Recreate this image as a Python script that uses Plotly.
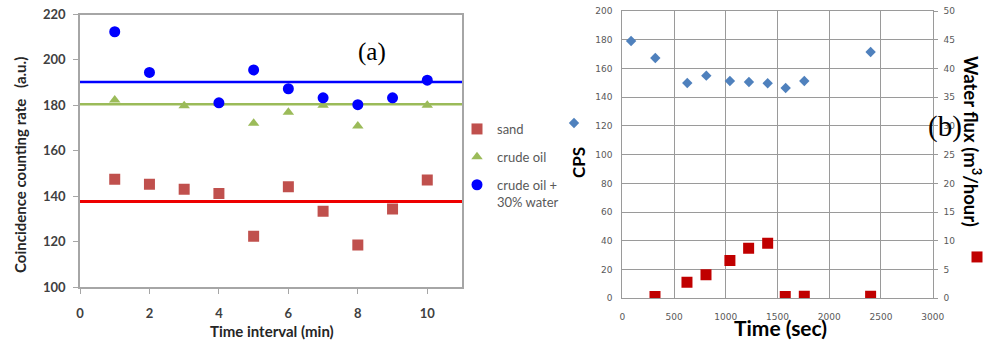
import plotly.graph_objects as go

# ---------------- Panel (a) data ----------------
interval = [1, 2, 3, 4, 5, 6, 7, 8, 9, 10]
sand = [147.4, 145.3, 143.1, 141.2, 122.4, 144.1, 133.4, 118.5, 134.3, 147.1]

oil_x = [1, 3, 4, 5, 6, 7, 8, 10]
crude_oil = [182.3, 179.8, 180.8, 172.1, 177.0, 180.0, 170.9, 180.0]

water_x = [1, 2, 4, 5, 6, 7, 8, 9, 10]
oil_water = [212.4, 194.5, 181.1, 195.6, 187.3, 183.3, 180.3, 183.3, 191.1]

means = {"sand": 137.7, "crude oil": 180.5, "crude oil + 30% water": 190.3}

# ---------------- Panel (b) data ----------------
cps_time = [85, 319, 628, 812, 1040, 1224, 1405, 1579, 1759, 2400]
cps = [179.1, 167.3, 149.9, 155.0, 151.3, 150.6, 149.7, 146.4, 151.3, 171.5]

flux_time = [316, 625, 809, 1040, 1221, 1405, 1575, 1759, 2400]
water_flux = [0.3, 2.8, 4.1, 6.6, 8.7, 9.6, 0.3, 0.35, 0.35]

W, H = 984, 341
def px(x):
    return x / W
def py(y):
    return 1 - y / H

SAND_C = "#c0504d"
OIL_C = "#9bbb59"
WATER_C = "#0000ff"

fig = go.Figure()

fig.add_trace(go.Scatter(x=interval, y=sand, mode="markers", name="sand",
                         marker=dict(symbol="square", size=11, color=SAND_C),
                         xaxis="x", yaxis="y", legend="legend", legendgroup="a1"))
fig.add_trace(go.Scatter(x=oil_x, y=crude_oil, mode="markers", name="crude oil",
                         marker=dict(symbol="triangle-up", size=10, color=OIL_C),
                         xaxis="x", yaxis="y", legend="legend", legendgroup="a2"))
fig.add_trace(go.Scatter(x=water_x, y=oil_water, mode="markers",
                         name="crude oil +<br>30% water",
                         marker=dict(symbol="circle", size=11, color=WATER_C),
                         xaxis="x", yaxis="y", legend="legend", legendgroup="a3"))

fig.add_trace(go.Scatter(x=cps_time, y=cps, mode="markers", name=" ",
                         marker=dict(symbol="diamond", size=8, color="#4f81bd"),
                         xaxis="x2", yaxis="y2", legend="legend2"))
fig.add_trace(go.Scatter(x=flux_time, y=water_flux, mode="markers", name=" ",
                         marker=dict(symbol="square", size=11, color="#c00000"),
                         xaxis="x2", yaxis="y3", legend="legend3"))

# mean lines for panel (a)
for key, col, w in [("crude oil + 30% water", WATER_C, 2.5),
                    ("crude oil", OIL_C, 2.5),
                    ("sand", "#ee0000", 3)]:
    fig.add_shape(type="line", xref="x domain", yref="y", x0=0, x1=1,
                  y0=means[key], y1=means[key], line=dict(color=col, width=w),
                  layer="below")

tickfont_a = dict(family="Lato", size=13, color="#404040", weight="bold")
tickfont_b = dict(family="DejaVu Sans", size=9, color="#595959")

fig.update_layout(
    width=W, height=H,
    margin=dict(l=0, r=0, t=0, b=0, autoexpand=False),
    paper_bgcolor="white", plot_bgcolor="white",
    showlegend=True,
    xaxis=dict(domain=[px(80), px(462)], range=[0, 11], tick0=0, dtick=2,
               showline=True, mirror=True, linecolor="#a6a6a6", linewidth=1.5,
               ticks="outside", ticklen=5, tickcolor="#a6a6a6",
               showgrid=False, zeroline=False, tickfont=tickfont_a,
               ticklabelstandoff=9, anchor="y"),
    yaxis=dict(domain=[py(287), py(14.5)], range=[100, 220], dtick=20,
               showline=True, mirror=True, linecolor="#a6a6a6", linewidth=1.5,
               ticks="outside", ticklen=5, tickcolor="#a6a6a6",
               showgrid=False, zeroline=False, tickfont=tickfont_a,
               ticklabelstandoff=5, anchor="x"),
    xaxis2=dict(domain=[px(622.3), px(932.7)], range=[0, 3000], dtick=500,
                showline=True, mirror=True, linecolor="#9a9a9a", linewidth=1,
                showgrid=True, gridcolor="#9a9a9a", gridwidth=1,
                zeroline=False, ticks="", tickfont=tickfont_b,
                ticklabelstandoff=10, anchor="y2"),
    yaxis2=dict(domain=[py(298.3), py(11)], range=[0, 200], dtick=20,
                showline=True, linecolor="#9a9a9a", linewidth=1,
                showgrid=True, gridcolor="#9a9a9a", gridwidth=1,
                zeroline=False, ticks="", tickfont=tickfont_b,
                ticklabelstandoff=7, anchor="x2"),
    yaxis3=dict(range=[0, 50], dtick=5, overlaying="y2", side="right",
                showline=True, linecolor="#9a9a9a", linewidth=1,
                showgrid=False, zeroline=False, ticks="outside", ticklen=4,
                tickcolor="#9a9a9a", tickfont=tickfont_b, ticklabelstandoff=4,
                anchor="x2"),
    legend=dict(x=px(457), y=py(114), xanchor="left", yanchor="top",
                traceorder="grouped", tracegroupgap=8, valign="top",
                font=dict(family="Lato", size=13, color="#595959"),
                bgcolor="rgba(0,0,0,0)"),
    legend2=dict(x=px(554), y=py(108), xanchor="left", yanchor="top",
                 font=dict(family="Lato", size=13), bgcolor="rgba(0,0,0,0)"),
    legend3=dict(x=px(957), y=py(242), xanchor="left", yanchor="top",
                 font=dict(family="Lato", size=13), bgcolor="rgba(0,0,0,0)"),
)

ann = [
    dict(text="(a)", x=px(372), y=py(52), font=dict(family="Liberation Serif", size=25, color="black")),
    dict(text="(b)", x=px(945), y=py(126), font=dict(family="Liberation Serif", size=29, color="black")),
    dict(text="<b>Coincidence counting rate   (a.u.)</b>", x=px(20), y=py(165), textangle=-90,
         font=dict(family="Lato", size=15, color="#262626")),
    dict(text="<b>Time interval (min)</b>", x=px(272), y=py(331),
         font=dict(family="Lato", size=15, color="#262626")),
    dict(text="<b>CPS</b>", x=px(578), y=py(163), textangle=-90,
         font=dict(family="Lato", size=17, color="black")),
    dict(text="<b>Time (sec)</b>", x=px(780), y=py(327),
         font=dict(family="Lato", size=21, color="black")),
    dict(text="<b>Water flux (m<sup>3</sup>/hour)</b>", x=px(973), y=py(141), textangle=90,
         font=dict(family="Lato", size=18.5, color="black")),
]
for a in ann:
    fig.add_annotation(xref="paper", yref="paper", showarrow=False,
                       xanchor="center", yanchor="middle", **a)

fig.write_html("out.html",
               config={"displayModeBar": False},
               post_script="document.body.style.margin='0';document.body.style.overflow='hidden';")
